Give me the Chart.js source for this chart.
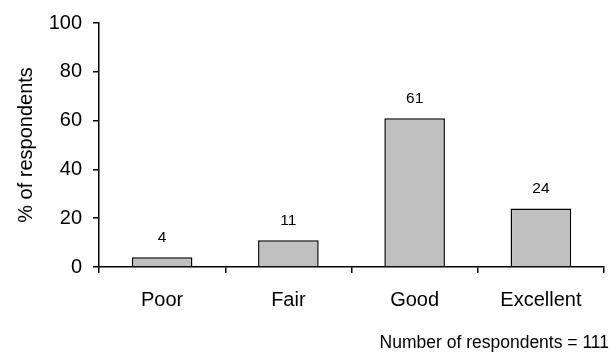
<!DOCTYPE html>
<html>
<head>
<meta charset="utf-8">
<script src="https://cdn.jsdelivr.net/npm/chart.js@4"></script>
<style>
  html, body { margin: 0; padding: 0; background: #ffffff; }
  #wrap { width: 610px; height: 356px; }
</style>
</head>
<body>
<div id="wrap"><canvas id="c" width="610" height="356"></canvas></div>
<script>
// Self-rated quality, share of respondents per answer
const categories = ['Poor', 'Fair', 'Good', 'Excellent'];
const percentValues = [4, 11, 61, 24];
const yTicks = [0, 20, 40, 60, 80, 100];
const footerText = 'Number of respondents = 111';
const yTitle = '% of respondents';

const FONT = "'Liberation Sans', Arial, sans-serif";

// Writes each bar's value a little above its top
const valueLabels = {
  id: 'valueLabels',
  afterDatasetsDraw(chart) {
    const ctx = chart.ctx;
    const meta = chart.getDatasetMeta(0);
    ctx.save();
    ctx.fillStyle = '#000';
    ctx.font = '15.5px ' + FONT;
    ctx.textAlign = 'center';
    ctx.textBaseline = 'middle';
    meta.data.forEach((bar, i) => {
      ctx.fillText(String(percentValues[i]), bar.x, bar.y - 19.5);
    });
    ctx.restore();
  }
};

// Sample-size note in the bottom right corner
const footerNote = {
  id: 'footerNote',
  afterDraw(chart) {
    const ctx = chart.ctx;
    ctx.save();
    ctx.fillStyle = '#000';
    ctx.font = '17.5px ' + FONT;
    ctx.textAlign = 'right';
    ctx.textBaseline = 'middle';
    ctx.fillText(footerText, chart.width - 1, 343);
    ctx.restore();
  }
};

new Chart(document.getElementById('c'), {
  type: 'bar',
  data: {
    labels: categories,
    datasets: [{
      data: percentValues,
      backgroundColor: '#c0c0c0',
      borderColor: '#000000',
      borderWidth: 1.5,
      categoryPercentage: 1,
      barPercentage: 0.48
    }]
  },
  options: {
    responsive: false,
    animation: false,
    devicePixelRatio: 1,
    layout: { padding: { top: 17, right: 6, left: 0, bottom: 29 } },
    plugins: {
      legend: { display: false },
      tooltip: { enabled: false },
      title: { display: false }
    },
    scales: {
      x: {
        offset: true,
        grid: {
          offset: true,
          drawOnChartArea: false,
          drawTicks: true,
          tickLength: 6,
          color: '#000',
          lineWidth: 1.5
        },
        border: { display: true, color: '#000', width: 1.5 },
        ticks: {
          color: '#000',
          padding: 15,
          font: { family: FONT, size: 20 }
        }
      },
      y: {
        min: 0,
        max: 100,
        afterBuildTicks(scale) {
          scale.ticks = yTicks.map(v => ({ value: v }));
        },
        afterFit(scale) { scale.width = 99; },
        grid: {
          drawOnChartArea: false,
          drawTicks: true,
          tickLength: 6,
          color: '#000',
          lineWidth: 1.5
        },
        border: { display: true, color: '#000', width: 1.5 },
        ticks: {
          color: '#000',
          padding: 11,
          font: { family: FONT, size: 20 }
        },
        title: {
          display: true,
          text: yTitle,
          color: '#000',
          font: { family: FONT, size: 20 },
          padding: { top: 14, bottom: 0 }
        }
      }
    }
  },
  plugins: [valueLabels, footerNote]
});
</script>
</body>
</html>
